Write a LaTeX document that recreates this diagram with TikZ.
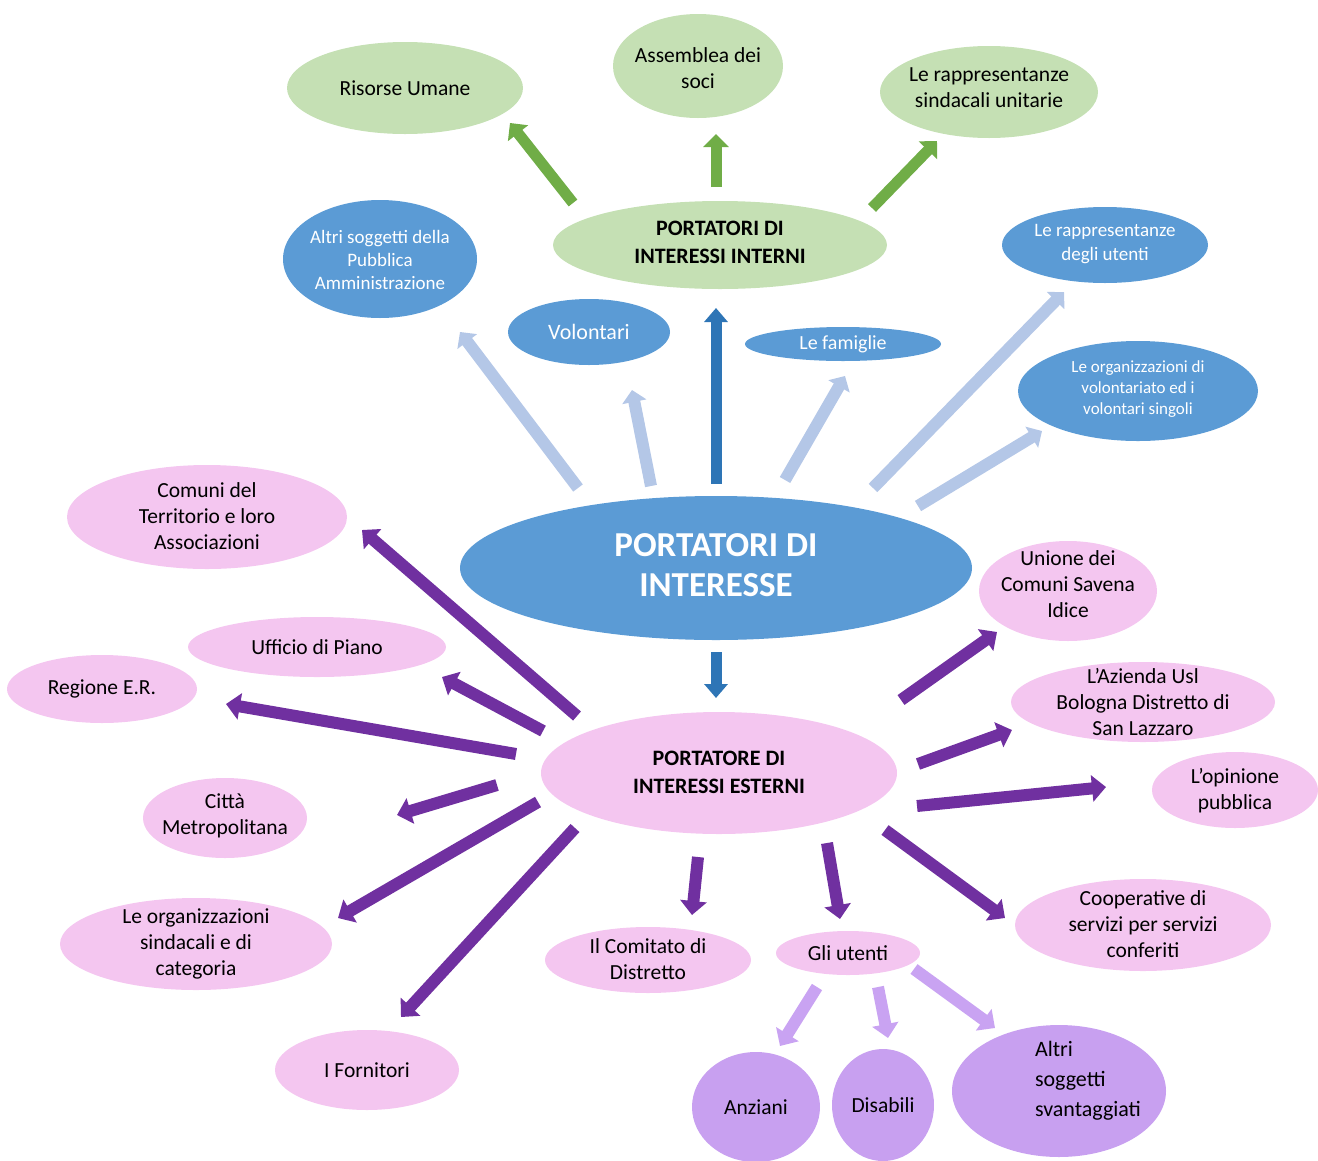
\documentclass[tikz,border=0pt]{standalone}
\usepackage{fontspec}
\setmainfont{Carlito}
\usetikzlibrary{arrows.meta,shapes.geometric}
\definecolor{gfill}{HTML}{C5E0B4}
\definecolor{garrow}{HTML}{70AD47}
\definecolor{bfill}{HTML}{5B9BD5}
\definecolor{blight}{HTML}{B4C7E7}
\definecolor{bdark}{HTML}{2E75B6}
\definecolor{pfill}{HTML}{F4C6F0}
\definecolor{parrow}{HTML}{7030A0}
\definecolor{vfill}{HTML}{C8A0F0}
\definecolor{varrow}{HTML}{C9A3F2}
\begin{document}
\begin{tikzpicture}[x=1pt,y=-1pt,
  ell/.style={ellipse, draw=none, inner sep=0pt, outer sep=0pt},
  gell/.style={ell, fill=gfill},
  bell/.style={ell, fill=bfill},
  pell/.style={ell, fill=pfill},
  vell/.style={ell, fill=vfill},
  lbl/.style={align=center, inner sep=0pt, text=black, font=\fontsize{21.5}{26}\selectfont},
  wlbl/.style={align=center, inner sep=0pt, text=white},
  garr/.style={draw=garrow, line width=11pt, -{Triangle[width=25pt,length=13pt]}},
  blarr/.style={draw=blight, line width=12pt, -{Triangle[width=24pt,length=12pt]}},
  bdarr/.style={draw=bdark, line width=11pt, -{Triangle[width=23pt,length=14pt]}},
  parr/.style={draw=parrow, line width=12pt, -{Triangle[width=26pt,length=14pt]}},
  varr/.style={draw=varrow, line width=12pt, -{Triangle[width=26pt,length=14pt]}}
]
\useasboundingbox (0,0) rectangle (1318,1160);

% green
\node[gell, minimum width=236pt, minimum height=92pt] (ri) at (405,88) {};
\node[lbl] (ri-t) at (ri) {Risorse Umane};
\node[gell, minimum width=170pt, minimum height=104pt] (as) at (698,66) {};
\node[lbl] (as-t) at (698,68) {Assemblea dei\\soci};
\node[gell, minimum width=218pt, minimum height=92pt] (rs) at (989,92) {};
\node[lbl] (rs-t) at (989,88) {Le rappresentanze\\sindacali unitarie};
\node[gell, minimum width=334pt, minimum height=88pt] (in) at (720,245) {};
\node[lbl, font=\bfseries\fontsize{22}{28}\selectfont] (in-t) at (720,242) {PORTATORI DI\\INTERESSI INTERNI};

% blue
\node[bell, minimum width=194pt, minimum height=118pt] (ap) at (380,259) {};
\node[wlbl, font=\fontsize{19}{23}\selectfont] (ap-t) at (380,260) {Altri soggetti della\\Pubblica\\Amministrazione};
\node[bell, minimum width=162pt, minimum height=66pt] (vo) at (589,332) {};
\node[wlbl, font=\fontsize{22}{26}\selectfont] (vo-t) at (589,332) {Volontari};
\node[bell, minimum width=196pt, minimum height=34pt] (fa) at (843,344) {};
\node[wlbl, font=\fontsize{20}{24}\selectfont] (fa-t) at (843,344) {Le famiglie};
\node[bell, minimum width=206pt, minimum height=76pt] (ru) at (1105,245) {};
\node[wlbl, font=\fontsize{19}{24}\selectfont] (ru-t) at (1105,244) {Le rappresentanze\\degli utenti};
\node[bell, minimum width=240pt, minimum height=100pt] (ov) at (1138,391) {};
\node[wlbl, font=\fontsize{17}{21}\selectfont] (ov-t) at (1138,389) {Le organizzazioni di\\volontariato ed i\\volontari singoli};
\node[bell, minimum width=512pt, minimum height=144pt] (pi) at (716,568) {};
\node[wlbl, font=\bfseries\fontsize{35}{40}\selectfont] (pi-t) at (716,565) {PORTATORI DI\\INTERESSE};

% pink
\node[pell, minimum width=280pt, minimum height=104pt] (co) at (207,517) {};
\node[lbl] (co-t) at (207,516) {Comuni del\\Territorio e loro\\Associazioni};
\node[pell, minimum width=258pt, minimum height=60pt] (up) at (317,647) {};
\node[lbl] (up-t) at (up) {Ufficio di Piano};
\node[pell, minimum width=190pt, minimum height=68pt] (re) at (102,689) {};
\node[lbl] (re-t) at (re) {Regione E.R.};
\node[pell, minimum width=164pt, minimum height=80pt] (cm) at (225,818) {};
\node[lbl] (cm-t) at (225,816) {Città\\Metropolitana};
\node[pell, minimum width=272pt, minimum height=92pt] (os) at (196,944) {};
\node[lbl] (os-t) at (196,944) {Le organizzazioni\\sindacali e di\\categoria};
\node[pell, minimum width=184pt, minimum height=80pt] (fo) at (367,1070) {};
\node[lbl] (fo-t) at (fo) {I Fornitori};
\node[pell, minimum width=206pt, minimum height=66pt] (cd) at (648,960) {};
\node[lbl] (cd-t) at (648,959) {Il Comitato di\\Distretto};
\node[pell, minimum width=144pt, minimum height=44pt] (gu) at (848,953) {};
\node[lbl] (gu-t) at (gu) {Gli utenti};
\node[pell, minimum width=178pt, minimum height=100pt] (un) at (1068,591) {};
\node[lbl] (un-t) at (1068,584) {Unione dei\\Comuni Savena\\Idice};
\node[pell, minimum width=264pt, minimum height=80pt] (az) at (1143,702) {};
\node[lbl] (az-t) at (1143,702) {L'Azienda Usl\\Bologna Distretto di\\San Lazzaro};
\node[pell, minimum width=166pt, minimum height=76pt] (op) at (1235,790) {};
\node[lbl] (op-t) at (1235,791) {L{\char"0027}opinione\\pubblica};
\node[pell, minimum width=256pt, minimum height=92pt] (cp) at (1143,925) {};
\node[lbl] (cp-t) at (1143,924) {Cooperative di\\servizi per servizi\\conferiti};
\node[pell, minimum width=356pt, minimum height=122pt] (es) at (719,773) {};
\node[lbl, font=\bfseries\fontsize{22}{28}\selectfont] (es-t) at (719,772) {PORTATORE DI\\INTERESSI ESTERNI};

% violet
\node[vell, minimum width=128pt, minimum height=110pt] (an) at (756,1107) {};
\node[lbl] (an-t) at (an) {Anziani};
\node[vell, minimum width=102pt, minimum height=112pt] (di) at (883,1105) {};
\node[lbl] (di-t) at (di) {Disabili};
\node[vell, minimum width=214pt, minimum height=132pt] (sv) at (1059,1091) {};
\node[lbl, align=left, font=\fontsize{22}{30}\selectfont] (sv-t) at (1088,1081) {Altri\\soggetti\\svantaggiati};

% green arrows
\draw[garr] ([shift={(-147,-42)}]in.center) -- ([shift={(105,35)}]ri.center);
\draw[garr] ([shift={(-4,-58)}]in.center) -- ([shift={(18,68)}]as.center);
\draw[garr] ([shift={(152,-37)}]in.center) -- ([shift={(-52,49)}]rs.center);

% blue arrows
\draw[blarr] ([shift={(-138,-80)}]pi.center) -- ([shift={(80,73)}]ap.center);
\draw[blarr] ([shift={(-65,-82)}]pi.center) -- ([shift={(43,58)}]vo.center);
\draw[bdarr] ([shift={(0,-84)}]pi.center) -- ([shift={(-4,63)}]in.center);
\draw[blarr] ([shift={(69,-88)}]pi.center) -- ([shift={(2,32)}]fa.center);
\draw[blarr] ([shift={(157,-80)}]pi.center) -- ([shift={(-41,47)}]ru.center);
\draw[blarr] ([shift={(202,-62)}]pi.center) -- ([shift={(-96,40)}]ov.center);
\draw[bdarr] ([shift={(0,84)}]pi.center) -- ([shift={(-3,-75)}]es.center);

% purple arrows
\draw[parr] ([shift={(-142,-57)}]es.center) -- ([shift={(155,13)}]co.center);
\draw[parr] ([shift={(-176,-42)}]es.center) -- ([shift={(125,30)}]up.center);
\draw[parr] ([shift={(-203,-19)}]es.center) -- ([shift={(124,15)}]re.center);
\draw[parr] ([shift={(-222,12)}]es.center) -- ([shift={(172,-3)}]cm.center);
\draw[parr] ([shift={(-181,29)}]es.center) -- ([shift={(142,-26)}]os.center);
\draw[parr] ([shift={(-144,55)}]es.center) -- ([shift={(34,-53)}]fo.center);
\draw[parr] ([shift={(-21,84)}]es.center) -- ([shift={(44,-45)}]cd.center);
\draw[parr] ([shift={(108,70)}]es.center) -- ([shift={(-8,-34)}]gu.center);
\draw[parr] ([shift={(166,57)}]es.center) -- ([shift={(-138,-7)}]cp.center);
\draw[parr] ([shift={(198,33)}]es.center) -- ([shift={(-129,-3)}]op.center);
\draw[parr] ([shift={(199,-9)}]es.center) -- ([shift={(-131,28)}]az.center);
\draw[parr] ([shift={(182,-73)}]es.center) -- ([shift={(-71,41)}]un.center);

% violet arrows
\draw[varr] ([shift={(-31,34)}]gu.center) -- ([shift={(24,-61)}]an.center);
\draw[varr] ([shift={(30,34)}]gu.center) -- ([shift={(5,-67)}]di.center);
\draw[varr] ([shift={(66,16)}]gu.center) -- ([shift={(-64,-63)}]sv.center);
\end{tikzpicture}
\end{document}
